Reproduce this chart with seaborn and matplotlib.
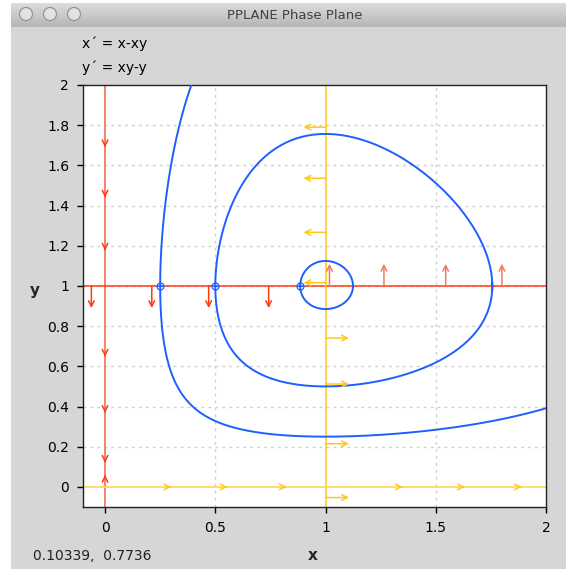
import numpy as np
import pandas as pd
import matplotlib
matplotlib.use("Agg")
import matplotlib.pyplot as plt
import seaborn as sns
from matplotlib.patches import Circle, Rectangle

# system shown in the window: x' = x - x*y, y' = x*y - y
start_x = [0.25, 0.5, 0.885]
start_y = [1.0, 1.0, 1.0]

# arrows hanging off the nullclines
down_arrow_x = [-0.062, 0.212, 0.47, 0.742]     # on y = 1, pointing down
up_arrow_x = [1.018, 1.265, 1.545, 1.80]        # on y = 1, pointing up
left_arrow_y = [1.79, 1.536, 1.267, 1.016]      # on x = 1, pointing left
right_arrow_y = [0.741, 0.512, 0.215, -0.053]   # on x = 1, pointing right
# arrowheads sitting on the invariant lines
x0_down_heads = [1.69, 1.44, 1.176, 0.648, 0.368, 0.12]
x0_up_heads = [0.06]
y0_right_heads = [0.30, 0.556, 0.824, 1.35, 1.632, 1.89]

x_ticks = [0, 0.5, 1, 1.5, 2]
x_ticklabels = ["0", "0.5", "1", "1.5", "2"]
y_ticks = [0, 0.2, 0.4, 0.6, 0.8, 1.0, 1.2, 1.4, 1.6, 1.8, 2.0]
y_ticklabels = ["0", "0.2", "0.4", "0.6", "0.8", "1", "1.2", "1.4", "1.6", "1.8", "2"]

BLUE = "#1f5fff"
RED = "#ff3a12"
RED_LIGHT = "#f47a5e"
YELLOW = "#ffc81a"
YELLOW_LIGHT = "#ffd95e"
BG = "#d6d6d6"


def field(p):
    x, y = p
    return np.array([x - x * y, x * y - y])


def trajectory(x0, y0, direction, dt=0.004, tmax=12.0):
    # integrate until the solution leaves the window or has gone half way round (1, 1)
    p = np.array([x0, y0])
    pts = [p.copy()]
    h = dt * direction
    ang0 = np.arctan2(y0 - 1, x0 - 1)
    prev = ang0
    turned = 0.0
    for _ in range(int(tmax / dt)):
        k1 = field(p)
        k2 = field(p + h / 2 * k1)
        k3 = field(p + h / 2 * k2)
        k4 = field(p + h * k3)
        p = p + h / 6 * (k1 + 2 * k2 + 2 * k3 + k4)
        pts.append(p.copy())
        ang = np.arctan2(p[1] - 1, p[0] - 1)
        d = (ang - prev + np.pi) % (2 * np.pi) - np.pi
        turned += abs(d)
        prev = ang
        if turned > np.pi + 0.02:
            break
        if p[0] < -0.2 or p[0] > 2.2 or p[1] < -0.2 or p[1] > 2.2:
            break
    return np.array(pts)


sns.set_style("ticks")
plt.rcParams["font.family"] = ["DejaVu Sans"]

W, H = 566, 569
fig = plt.figure(figsize=(W / 100, H / 100), dpi=100)
fig.patch.set_facecolor("white")

# window chrome
bg = fig.add_axes([0, 0, 1, 1])
bg.set_xlim(0, W)
bg.set_ylim(H, 0)
bg.axis("off")
bg.add_patch(Rectangle((11, 3), W - 11, H - 3, facecolor=BG, edgecolor="none"))
grad = np.linspace(0, 1, 50).reshape(-1, 1)
bg.imshow(grad, extent=[11, W, 27, 3], cmap=matplotlib.colors.LinearSegmentedColormap.from_list(
    "bar", ["#dcdcdc", "#b6b6b6"]), aspect="auto", zorder=1)
for cx in [26, 50, 74]:
    bg.add_patch(Circle((cx, 14), 6.5, facecolor="#e2e2e2", edgecolor="#8f8f8f", lw=0.8, zorder=2))
bg.text(295, 15, "PPLANE Phase Plane", ha="center", va="center", fontsize=9.5, color="#404040")
bg.text(82, 44, "x\u00b4 = x-xy", ha="left", va="center", fontsize=10, color="black")
bg.text(82, 68, "y\u00b4 = xy-y", ha="left", va="center", fontsize=10, color="black")
bg.text(33, 556, "0.10339,  0.7736", ha="left", va="center", fontsize=10, color="#222222")
bg.text(35, 290, "y", ha="center", va="center", fontsize=11, fontweight="bold")
bg.text(313, 555, "x", ha="center", va="center", fontsize=11, fontweight="bold")

ax = fig.add_axes([83 / W, (H - 507) / H, (546 - 83) / W, (507 - 85) / H])
ax.set_facecolor("white")
ax.set_xlim(-0.1, 2)
ax.set_ylim(-0.1, 2)

for gx in [0.5, 1.5]:
    ax.axvline(gx, color="#cfcfcf", lw=1, ls=(0, (2, 3)), zorder=0)
for gy in y_ticks[1:-1]:
    ax.axhline(gy, color="#cfcfcf", lw=1, ls=(0, (2, 3)), zorder=0)

# nullclines
ax.axvline(0, color=RED_LIGHT, lw=1.3, zorder=2)
ax.axhline(1, color=RED, lw=1.1, zorder=2)
ax.axvline(1, color=YELLOW, lw=1.1, zorder=2)
ax.axhline(0, color=YELLOW_LIGHT, lw=1.3, zorder=2)

# orbits
for sx, sy in zip(start_x, start_y):
    fwd = trajectory(sx, sy, 1)
    bwd = trajectory(sx, sy, -1)
    pts = np.vstack([bwd[::-1], fwd[1:]])
    df = pd.DataFrame({"x": pts[:, 0], "y": pts[:, 1]})
    sns.lineplot(data=df, x="x", y="y", sort=False, estimator=None, color=BLUE, lw=1.4, ax=ax, zorder=3)
    ax.plot(sx, sy, marker="o", ms=5, mfc="none", mec=BLUE, mew=0.9, zorder=4)
    ax.plot(sx, sy, marker="+", ms=5, color=BLUE, mew=0.7, zorder=4)

arrow_kw = dict(arrowstyle="->", lw=1.1, shrinkA=0, shrinkB=0, mutation_scale=10)
for xa in down_arrow_x:
    ax.annotate("", xy=(xa, 0.89), xytext=(xa, 1.0), arrowprops=dict(color=RED, **arrow_kw), zorder=3)
for xa in up_arrow_x:
    ax.annotate("", xy=(xa, 1.11), xytext=(xa, 1.0), arrowprops=dict(color=RED_LIGHT, **arrow_kw), zorder=3)
for ya in left_arrow_y:
    ax.annotate("", xy=(0.9, ya), xytext=(1.0, ya), arrowprops=dict(color=YELLOW, **arrow_kw), zorder=3)
for ya in right_arrow_y:
    ax.annotate("", xy=(1.106, ya), xytext=(1.0, ya), arrowprops=dict(color=YELLOW, **arrow_kw), zorder=3)

head_kw = dict(arrowstyle="->", lw=1.1, shrinkA=0, shrinkB=0, mutation_scale=10)
for ya in x0_down_heads:
    ax.annotate("", xy=(0, ya), xytext=(0, ya + 0.01), arrowprops=dict(color=RED, **head_kw), zorder=3)
for ya in x0_up_heads:
    ax.annotate("", xy=(0, ya), xytext=(0, ya - 0.01), arrowprops=dict(color=RED, **head_kw), zorder=3)
for xa in y0_right_heads:
    ax.annotate("", xy=(xa, 0), xytext=(xa - 0.01, 0), arrowprops=dict(color=YELLOW, **head_kw), zorder=3)

ax.set_xticks(x_ticks)
ax.set_xticklabels(x_ticklabels)
ax.set_yticks(y_ticks)
ax.set_yticklabels(y_ticklabels)
ax.set_xlabel("")
ax.set_ylabel("")
ax.tick_params(direction="out", length=4, width=1, labelsize=10, colors="black", pad=6)
for s in ax.spines.values():
    s.set_visible(True)
    s.set_color("#222222")
    s.set_linewidth(1)

fig.savefig("out.png", dpi=100)
